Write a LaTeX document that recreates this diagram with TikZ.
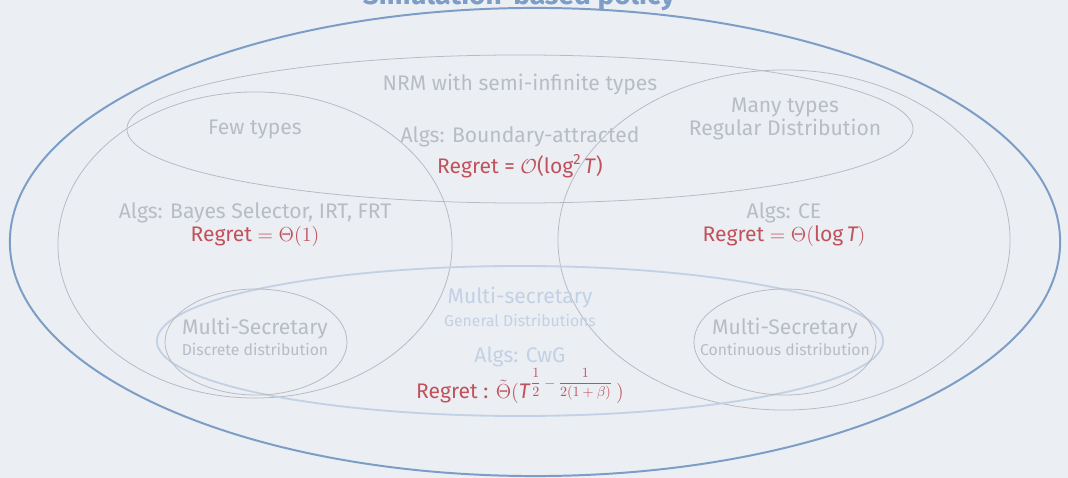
\documentclass[tikz,border=0pt]{standalone}
\usepackage[no-math]{fontspec}
\setmainfont{Fira Sans}
\usetikzlibrary{positioning}

\definecolor{slidebg}{HTML}{EBEEF3}
\definecolor{fadegrey}{HTML}{B8BCC4}
\definecolor{regionline}{HTML}{B7BAC0}
\definecolor{regretred}{HTML}{C1525C}
\definecolor{simblue}{HTML}{7B9DC6}
\definecolor{fadeblue}{HTML}{C3D1E4}

\begin{document}
\begin{tikzpicture}[
            x=0.025cm, y=-0.025cm,
            region/.style={draw=regionline, line width=0.55pt},
            simregion/.style={draw=simblue, line width=1.4pt},
            msregion/.style={draw=fadeblue, line width=1.3pt},
            regiontext/.style={text=fadegrey, font=\fontsize{15}{17}\selectfont, inner sep=0pt, anchor=base},
            smalltext/.style={regiontext, font=\fontsize{11.2}{13}\selectfont},
            regret/.style={regiontext, text=regretred},
            fadedtext/.style={regiontext, text=fadeblue},
            titletext/.style={text=simblue, font=\bfseries\fontsize{20}{22}\selectfont, inner sep=0pt, anchor=base}
            ]

            \fill[slidebg] (0,0) rectangle (1068,478);
            \useasboundingbox (0,0) rectangle (1068,478);

            % Regions
            \draw[simregion] (535,242) ellipse [x radius=13.125cm, y radius=5.85cm];
            \draw[region] (520,129) ellipse [x radius=9.825cm, y radius=1.85cm];
            \draw[region] (255,245) ellipse [x radius=4.925cm, y radius=3.825cm];
            \draw[region] (784,240) ellipse [x radius=5.65cm, y radius=4.25cm];
            \draw[msregion] (520,341) ellipse [x radius=9.075cm, y radius=1.875cm];
            \draw[region] (256,342) ellipse [x radius=2.275cm, y radius=1.325cm];
            \draw[region] (785,342) ellipse [x radius=2.275cm, y radius=1.325cm];

            % Title
            \node[titletext] (simtitle) at (519,5) {Simulation-based policy};

            % NRM with semi-infinite types
            \node[regiontext] (nrm) at (520,90.5) {NRM with semi-infinite types};
            \node[regiontext] (boundaryalgs) at (520,142.7) {Algs: Boundary-attracted};
            \node[regret, below=0.77cm of boundaryalgs.base, anchor=base] (boundaryregret) {Regret = $\mathcal{O}$(log\raisebox{0.42em}{\fontsize{10.5}{11}\selectfont 2}\,\textit{T})};

            % Few types
            \node[regiontext] (fewtypes) at (255,134.3) {Few types};
            \node[regiontext] (bayesalgs) at (255,218.3) {Algs: Bayes Selector, IRT, FRT};
            \node[regret, below=0.57cm of bayesalgs.base, anchor=base] (bayesregret) {Regret $=\Theta(1)$};

            % Many types
            \node[regiontext] (manytypes) at (785,112.3) {Many types};
            \node[regiontext, below=0.57cm of manytypes.base, anchor=base] (regulardist) {Regular Distribution};
            \node[regiontext] (cealgs) at (784,218.3) {Algs: CE};
            \node[regret, below=0.57cm of cealgs.base, anchor=base] (ceregret) {Regret $=\Theta(\mbox{log}\,\mbox{\itshape T})$};

            % Multi-secretary, general distributions
            \node[fadedtext] (multisec) at (520,303.3) {Multi-secretary};
            \node[fadedtext, smalltext, text=fadeblue, below=0.57cm of multisec.base, anchor=base] (generaldist) {General Distributions};
            \node[fadedtext] (cwgalgs) at (520,362.7) {Algs: CwG};
            \node[regret, below=0.89cm of cwgalgs.base, anchor=base] (cwgregret) {Regret : $\tilde{\Theta}($\textit{T}\raisebox{8pt}{\fontsize{10.2}{10}\selectfont$\displaystyle\frac{1}{2}-\frac{1}{2(1+\beta)}$}\,$)$};

            % Multi-secretary, discrete and continuous
            \node[regiontext] (discretems) at (255,334.3) {Multi-Secretary};
            \node[smalltext, below=0.54cm of discretems.base, anchor=base] (discretedist) {Discrete distribution};
            \node[regiontext] (continuousms) at (785,334.3) {Multi-Secretary};
            \node[smalltext, below=0.54cm of continuousms.base, anchor=base] (continuousdist) {Continuous distribution};

        \end{tikzpicture}
\end{document}
